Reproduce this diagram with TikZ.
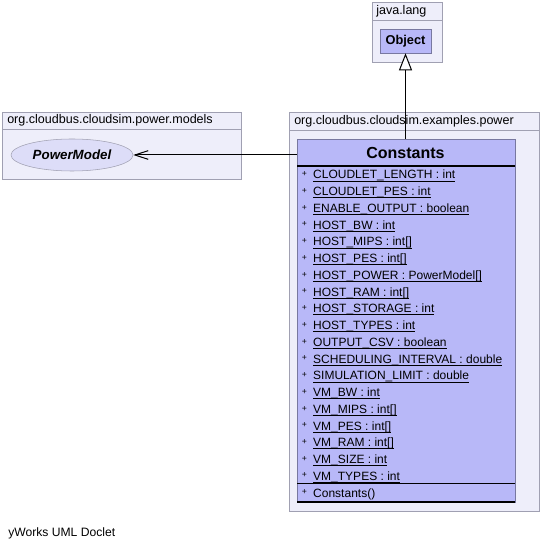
\documentclass[tikz,border=0pt]{standalone}
\usepackage{fontspec}
\setmainfont{Liberation Sans}
\usepackage{tikz}
\usetikzlibrary{positioning}
\usetikzlibrary{arrows.meta}
\usetikzlibrary{shapes.geometric}
\definecolor{pkg-fill}{RGB}{238,238,250}
\definecolor{pkg-line}{RGB}{160,160,178}
\definecolor{class-fill}{RGB}{184,184,248}
\definecolor{class-line}{RGB}{120,120,160}
\definecolor{iface-fill}{RGB}{221,221,248}

\newcommand{\plusmark}{\makebox[8.6pt][l]{\raisebox{1.8pt}{\fontsize{6.5}{7}\selectfont +}}}
\newcommand{\uline}[1]{\setbox0\hbox{#1}\rlap{\rule[-1.8pt]{\wd0}{0.6pt}}\box0}

\begin{document}
\begin{tikzpicture}[x=0.75pt, y=-0.75pt, >=latex,
pkg/.style={draw=pkg-line, fill=pkg-fill},
pkgname/.style={anchor=base west, inner sep=0pt, font=\fontsize{9.4}{11}\selectfont},
cls/.style={rectangle, draw=class-line, fill=class-fill, inner sep=0pt},
attr/.style={anchor=base west, inner sep=0pt, font=\fontsize{9}{10}\selectfont},
sep/.style={black, line width=0.9pt}]
% canvas
\path[use as bounding box, fill=white] (0,0) rectangle (542,548);

% packages
\draw[pkg] (372,2) rectangle (442,62);
\draw[pkg-line] (372,20) -- (442,20);
\node[pkgname] (java) at (376,15) {java.lang};

\draw[pkg] (2,112) rectangle (241,179);
\draw[pkg-line] (2,129) -- (241,129);
\node[pkgname] (models) at (7,124) {org.cloudbus.cloudsim.power.models};

\draw[pkg] (289,112) rectangle (539,511);
\draw[pkg-line] (289,130) -- (539,130);
\node[pkgname] (power) at (294,125) {org.cloudbus.cloudsim.examples.power};

% classes
\node[cls, minimum width=38.25pt, minimum height=18pt, font=\bfseries\fontsize{9.6}{11}\selectfont] (obj) at (405.5,41) {Object};

\node[ellipse, draw=pkg-line, fill=iface-fill, minimum width=91.5pt, minimum height=24pt, inner sep=0pt,
  font=\bfseries\itshape\fontsize{10}{12}\selectfont] (pm) at (72,155) {PowerModel};

\node[cls, minimum width=163.5pt, minimum height=272.25pt] (cls) at (406,320.5) {};
\node[font=\bfseries\fontsize{12}{14}\selectfont, inner sep=0pt] (clsname) at (405.5,152.5) {Constants};

% compartments
\draw[sep] (297,166) -- (515,166);
\draw[sep] (297,483.3) -- (515,483.3);
\draw[sep] (297,502) -- (515,502);

% attributes
\node[attr] (a1) at (301.5,179) {\plusmark\uline{CLOUDLET\_LENGTH : int}};
\node[attr] (a2) at (301.5,195.7) {\plusmark\uline{CLOUDLET\_PES : int}};
\node[attr] (a3) at (301.5,212.5) {\plusmark\uline{ENABLE\_OUTPUT : boolean}};
\node[attr] (a4) at (301.5,229.2) {\plusmark\uline{HOST\_BW : int}};
\node[attr] (a5) at (301.5,246) {\plusmark\uline{HOST\_MIPS : int[]}};
\node[attr] (a6) at (301.5,262.7) {\plusmark\uline{HOST\_PES : int[]}};
\node[attr] (a7) at (301.5,279.4) {\plusmark\uline{HOST\_POWER : PowerModel[]}};
\node[attr] (a8) at (301.5,296.2) {\plusmark\uline{HOST\_RAM : int[]}};
\node[attr] (a9) at (301.5,312.9) {\plusmark\uline{HOST\_STORAGE : int}};
\node[attr] (a10) at (301.5,329.7) {\plusmark\uline{HOST\_TYPES : int}};
\node[attr] (a11) at (301.5,346.4) {\plusmark\uline{OUTPUT\_CSV : boolean}};
\node[attr] (a12) at (301.5,363.1) {\plusmark\uline{SCHEDULING\_INTERVAL : double}};
\node[attr] (a13) at (301.5,379.9) {\plusmark\uline{SIMULATION\_LIMIT : double}};
\node[attr] (a14) at (301.5,396.6) {\plusmark\uline{VM\_BW : int}};
\node[attr] (a15) at (301.5,413.4) {\plusmark\uline{VM\_MIPS : int[]}};
\node[attr] (a16) at (301.5,430.1) {\plusmark\uline{VM\_PES : int[]}};
\node[attr] (a17) at (301.5,446.8) {\plusmark\uline{VM\_RAM : int[]}};
\node[attr] (a18) at (301.5,463.6) {\plusmark\uline{VM\_SIZE : int}};
\node[attr] (a19) at (301.5,480.3) {\plusmark\uline{VM\_TYPES : int}};

% operations
\node[attr] (op1) at (301.5,497.1) {\plusmark Constants()};

% relations
\draw[line width=0.75pt, -{Triangle[open, length=12.75pt, width=9.75pt, fill=white]}] (cls.north -| obj.south) -- (obj.south);
\draw[line width=0.75pt, -{Straight Barb[length=10pt, width=6.5pt]}] (cls.west |- pm.east) -- (pm.east);

% footer
\node[anchor=base west, inner sep=0pt, font=\fontsize{9.1}{10}\selectfont] (doclet) at (8,536) {yWorks UML Doclet};
\end{tikzpicture}
\end{document}
